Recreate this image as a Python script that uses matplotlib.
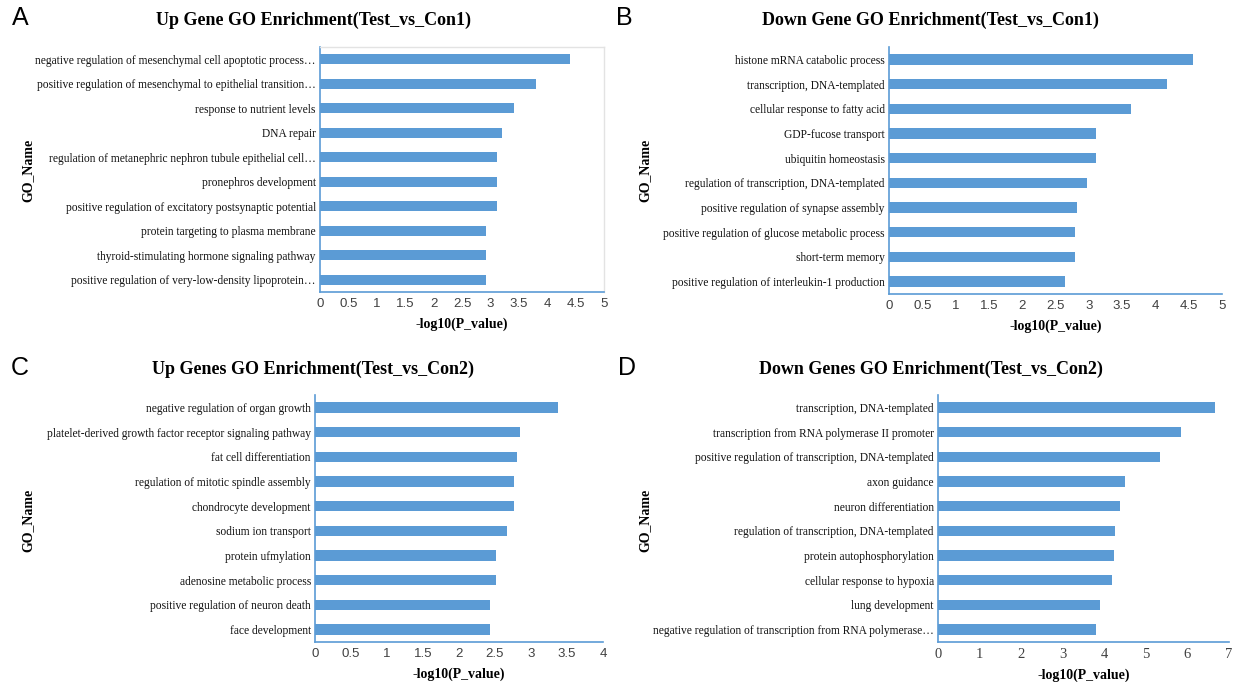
import matplotlib
matplotlib.use("Agg")
import matplotlib.pyplot as plt

# panel A
a_terms = ["negative regulation of mesenchymal cell apoptotic process\u2026",
           "positive regulation of mesenchymal to epithelial transition\u2026",
           "response to nutrient levels",
           "DNA repair",
           "regulation of metanephric nephron tubule epithelial cell\u2026",
           "pronephros development",
           "positive regulation of excitatory postsynaptic potential",
           "protein targeting to plasma membrane",
           "thyroid-stimulating hormone signaling pathway",
           "positive regulation of very-low-density lipoprotein\u2026"]
a_vals = [4.40, 3.81, 3.41, 3.20, 3.12, 3.12, 3.12, 2.93, 2.93, 2.92]

# panel B
b_terms = ["histone mRNA catabolic process",
           "transcription, DNA-templated",
           "cellular response to fatty acid",
           "GDP-fucose transport",
           "ubiquitin homeostasis",
           "regulation of transcription, DNA-templated",
           "positive regulation of synapse assembly",
           "positive regulation of glucose metabolic process",
           "short-term memory",
           "positive regulation of interleukin-1 production"]
b_vals = [4.57, 4.18, 3.64, 3.11, 3.11, 2.98, 2.83, 2.80, 2.80, 2.65]

# panel C
c_terms = ["negative regulation of organ growth",
           "platelet-derived growth factor receptor signaling pathway",
           "fat cell differentiation",
           "regulation of mitotic spindle assembly",
           "chondrocyte development",
           "sodium ion transport",
           "protein ufmylation",
           "adenosine metabolic process",
           "positive regulation of neuron death",
           "face development"]
c_vals = [3.37, 2.85, 2.80, 2.76, 2.76, 2.67, 2.52, 2.52, 2.43, 2.43]

# panel D
d_terms = ["transcription, DNA-templated",
           "transcription from RNA polymerase II promoter",
           "positive regulation of transcription, DNA-templated",
           "axon guidance",
           "neuron differentiation",
           "regulation of transcription, DNA-templated",
           "protein autophosphorylation",
           "cellular response to hypoxia",
           "lung development",
           "negative regulation of transcription from RNA polymerase\u2026"]
d_vals = [6.67, 5.84, 5.33, 4.50, 4.37, 4.26, 4.24, 4.18, 3.89, 3.80]

titles = ["Up Gene GO Enrichment(Test_vs_Con1)",
          "Down Gene GO Enrichment(Test_vs_Con1)",
          "Up Genes GO Enrichment(Test_vs_Con2)",
          "Down Genes GO Enrichment(Test_vs_Con2)"]
letters = ["A", "B", "C", "D"]
xmax = [5, 5, 4, 7]
xstep = [0.5, 0.5, 0.5, 1]

W, H = 1238, 682
# axes rectangles in pixels: left, top, right, bottom
rects = [(320, 47, 604, 292), (889, 47, 1222, 294),
         (315, 395, 603, 642), (938, 395, 1229, 642)]
letter_pos = [(20, 18), (624, 18), (20, 368), (627, 368)]
title_pos = [(314, 20), (930, 20), (313, 369), (931, 369)]
goname_pos = [(28, 170), (645, 170), (28, 520), (645, 520)]

blue = "#5B9BD5"
serif = "Liberation Serif"

fig = plt.figure(figsize=(W / 100, H / 100), dpi=100)

data = [(a_terms, a_vals), (b_terms, b_vals), (c_terms, c_vals), (d_terms, d_vals)]
for i, (terms, vals) in enumerate(data):
    l, t, r, b = rects[i]
    ax = fig.add_axes([l / W, 1 - b / H, (r - l) / W, (b - t) / H])
    y = list(range(len(terms)))
    ax.barh(y, vals, height=0.42, color=blue)
    ax.set_ylim(len(terms) - 0.5, -0.5)
    ax.set_xlim(0, xmax[i])
    ticks = [k * xstep[i] for k in range(int(round(xmax[i] / xstep[i])) + 1)]
    ax.set_xticks(ticks)
    if i == 3:
        ax.set_xticklabels([("%g" % v) for v in ticks], family=serif,
                           fontsize=10.5, color="#404040")
    else:
        ax.set_xticklabels([("%g" % v) for v in ticks], family="Liberation Sans",
                           fontsize=9.5, color="#404040")
    ax.set_yticks(y)
    ax.set_yticklabels(terms, family=serif, fontsize=8.3, color="#111111")
    ax.tick_params(axis="x", length=0, pad=4)
    ax.tick_params(axis="y", length=0, pad=3)
    for s in ["left", "bottom"]:
        ax.spines[s].set_color(blue)
        ax.spines[s].set_linewidth(1.2)
    if i == 0:
        for s in ["top", "right"]:
            ax.spines[s].set_color("#E3E3E3")
            ax.spines[s].set_linewidth(1.0)
    else:
        ax.spines["top"].set_visible(False)
        ax.spines["right"].set_visible(False)
    ax.set_xlabel("-log10(P_value)", family=serif, fontweight="bold",
                  fontsize=10, labelpad=6)
    gx, gy = goname_pos[i]
    fig.text(gx / W, 1 - gy / H, "GO_Name", family=serif, fontweight="bold",
             fontsize=10, rotation=90, ha="center", va="center")
    tx, ty = title_pos[i]
    fig.text(tx / W, 1 - ty / H, titles[i], family=serif, fontweight="bold",
             fontsize=13, ha="center", va="center")
    lx, ly = letter_pos[i]
    fig.text(lx / W, 1 - ly / H, letters[i], family="Liberation Sans",
             fontsize=18, ha="center", va="center")

fig.savefig("out.png", dpi=100)
